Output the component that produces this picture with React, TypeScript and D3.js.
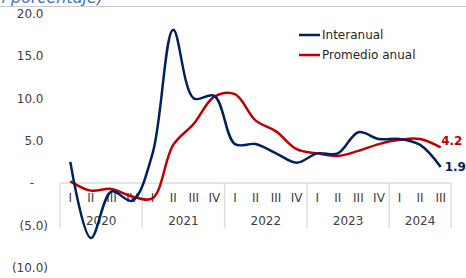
import React from "react";
import * as d3 from "d3";

const years = ["2020", "2021", "2022", "2023", "2024"];
const quarterLabels = ["I", "II", "III", "IV", "I", "II", "III", "IV", "I", "II", "III", "IV", "I", "II", "III", "IV", "I", "II", "III"];
const quartersPerYear = [4, 4, 4, 4, 3];
const interanual = [2.5, -6.5, -1.0, -2.1, 3.5, 18.1, 10.0, 10.3, 4.6, 4.6, 3.5, 2.4, 3.5, 3.5, 6.0, 5.2, 5.2, 4.5, 1.9];
const promedio = [0.2, -0.9, -0.7, -1.6, -1.8, 4.5, 7.0, 10.2, 10.5, 7.4, 6.1, 4.0, 3.5, 3.2, 3.8, 4.6, 5.1, 5.2, 4.2];
const yTicks = [20, 15, 10, 5, 0, -5, -10];
const seriesNames = ["Interanual", "Promedio anual"];

const W = 466;
const H = 278;
const BLUE = "#002060";
const RED = "#C00000";
const FONT = "'DejaVu Sans', Verdana, sans-serif";

function fmt(v: number) {
  if (v === 0) return "-";
  if (v < 0) return `(${Math.abs(v).toFixed(1)})`;
  return v.toFixed(1);
}

export default function App() {
  const n = quarterLabels.length;
  const x = d3.scaleBand<number>().domain(d3.range(n)).range([60, 451]).padding(0);
  const y = d3.scaleLinear().domain([-10, 20]).range([267.6, 13.8]);
  const cx = (i: number) => (x(i) as number) + x.bandwidth() / 2;
  const line = d3
    .line<number>()
    .x((_, i) => cx(i))
    .y((d) => y(d))
    .curve(d3.curveCatmullRom.alpha(0.5));

  const yearBounds: number[] = [0];
  quartersPerYear.forEach((q, i) => yearBounds.push(yearBounds[i] + q));
  const xAt = (idx: number) => (idx >= n ? 451 : (x(idx) as number));

  const y0 = y(0);
  const last = n - 1;

  return (
    <svg width={W} height={H} style={{ position: "absolute", left: 0, top: 0 }} fontFamily={FONT}>
      <rect width={W} height={H} fill="#fff" />
      <text x={103} y={3} textAnchor="end" fontSize={16} fontStyle="italic" fill="#4472C4">
        (en porcentaje)
      </text>
      <line x1={0} x2={W} y1={6.5} y2={6.5} stroke="#c8c8c8" strokeWidth={1} />

      {yTicks.map((t) => (
        <text
          key={t}
          x={t === 0 ? 34 : t < 0 ? 48 : 43.5}
          y={y(t)}
          dy="0.35em"
          textAnchor="end"
          fontSize={12}
          fill="#404040"
        >
          {fmt(t)}
        </text>
      ))}

      {/* category axis frame */}
      <line x1={60} x2={451} y1={y0} y2={y0} stroke="#dedede" strokeWidth={1.5} />
      {yearBounds.map((b, i) => (
        <line key={i} x1={xAt(b)} x2={xAt(b)} y1={y0} y2={228} stroke="#dedede" strokeWidth={1.5} />
      ))}
      {quarterLabels.map((q, i) => (
        <text key={i} x={cx(i)} y={198} dy="0.35em" textAnchor="middle" fontSize={12} fill="#404040">
          {q}
        </text>
      ))}
      {years.map((yr, i) => (
        <text
          key={yr}
          x={(xAt(yearBounds[i]) + xAt(yearBounds[i + 1])) / 2}
          y={221}
          dy="0.35em"
          textAnchor="middle"
          fontSize={12}
          fill="#404040"
        >
          {yr}
        </text>
      ))}

      <path d={line(promedio) || ""} fill="none" stroke={RED} strokeWidth={2.5} />
      <path d={line(interanual) || ""} fill="none" stroke={BLUE} strokeWidth={2.5} />

      <text x={cx(last) + 0.5} y={y(promedio[last]) - 7} dy="0.35em" fontSize={12} fontWeight="bold" fill={RED}>
        {promedio[last].toFixed(1)}
      </text>
      <text x={cx(last) + 4} y={y(interanual[last])} dy="0.35em" fontSize={12} fontWeight="bold" fill={BLUE}>
        {interanual[last].toFixed(1)}
      </text>

      {/* legend */}
      {seriesNames.map((s, i) => (
        <g key={s} transform={`translate(299, ${35 + i * 20})`}>
          <line x1={0} x2={21} y1={0} y2={0} stroke={i === 0 ? BLUE : RED} strokeWidth={2.5} />
          <text x={23} y={0} dy="0.35em" fontSize={12} fill="#262626">
            {s}
          </text>
        </g>
      ))}
    </svg>
  );
}
